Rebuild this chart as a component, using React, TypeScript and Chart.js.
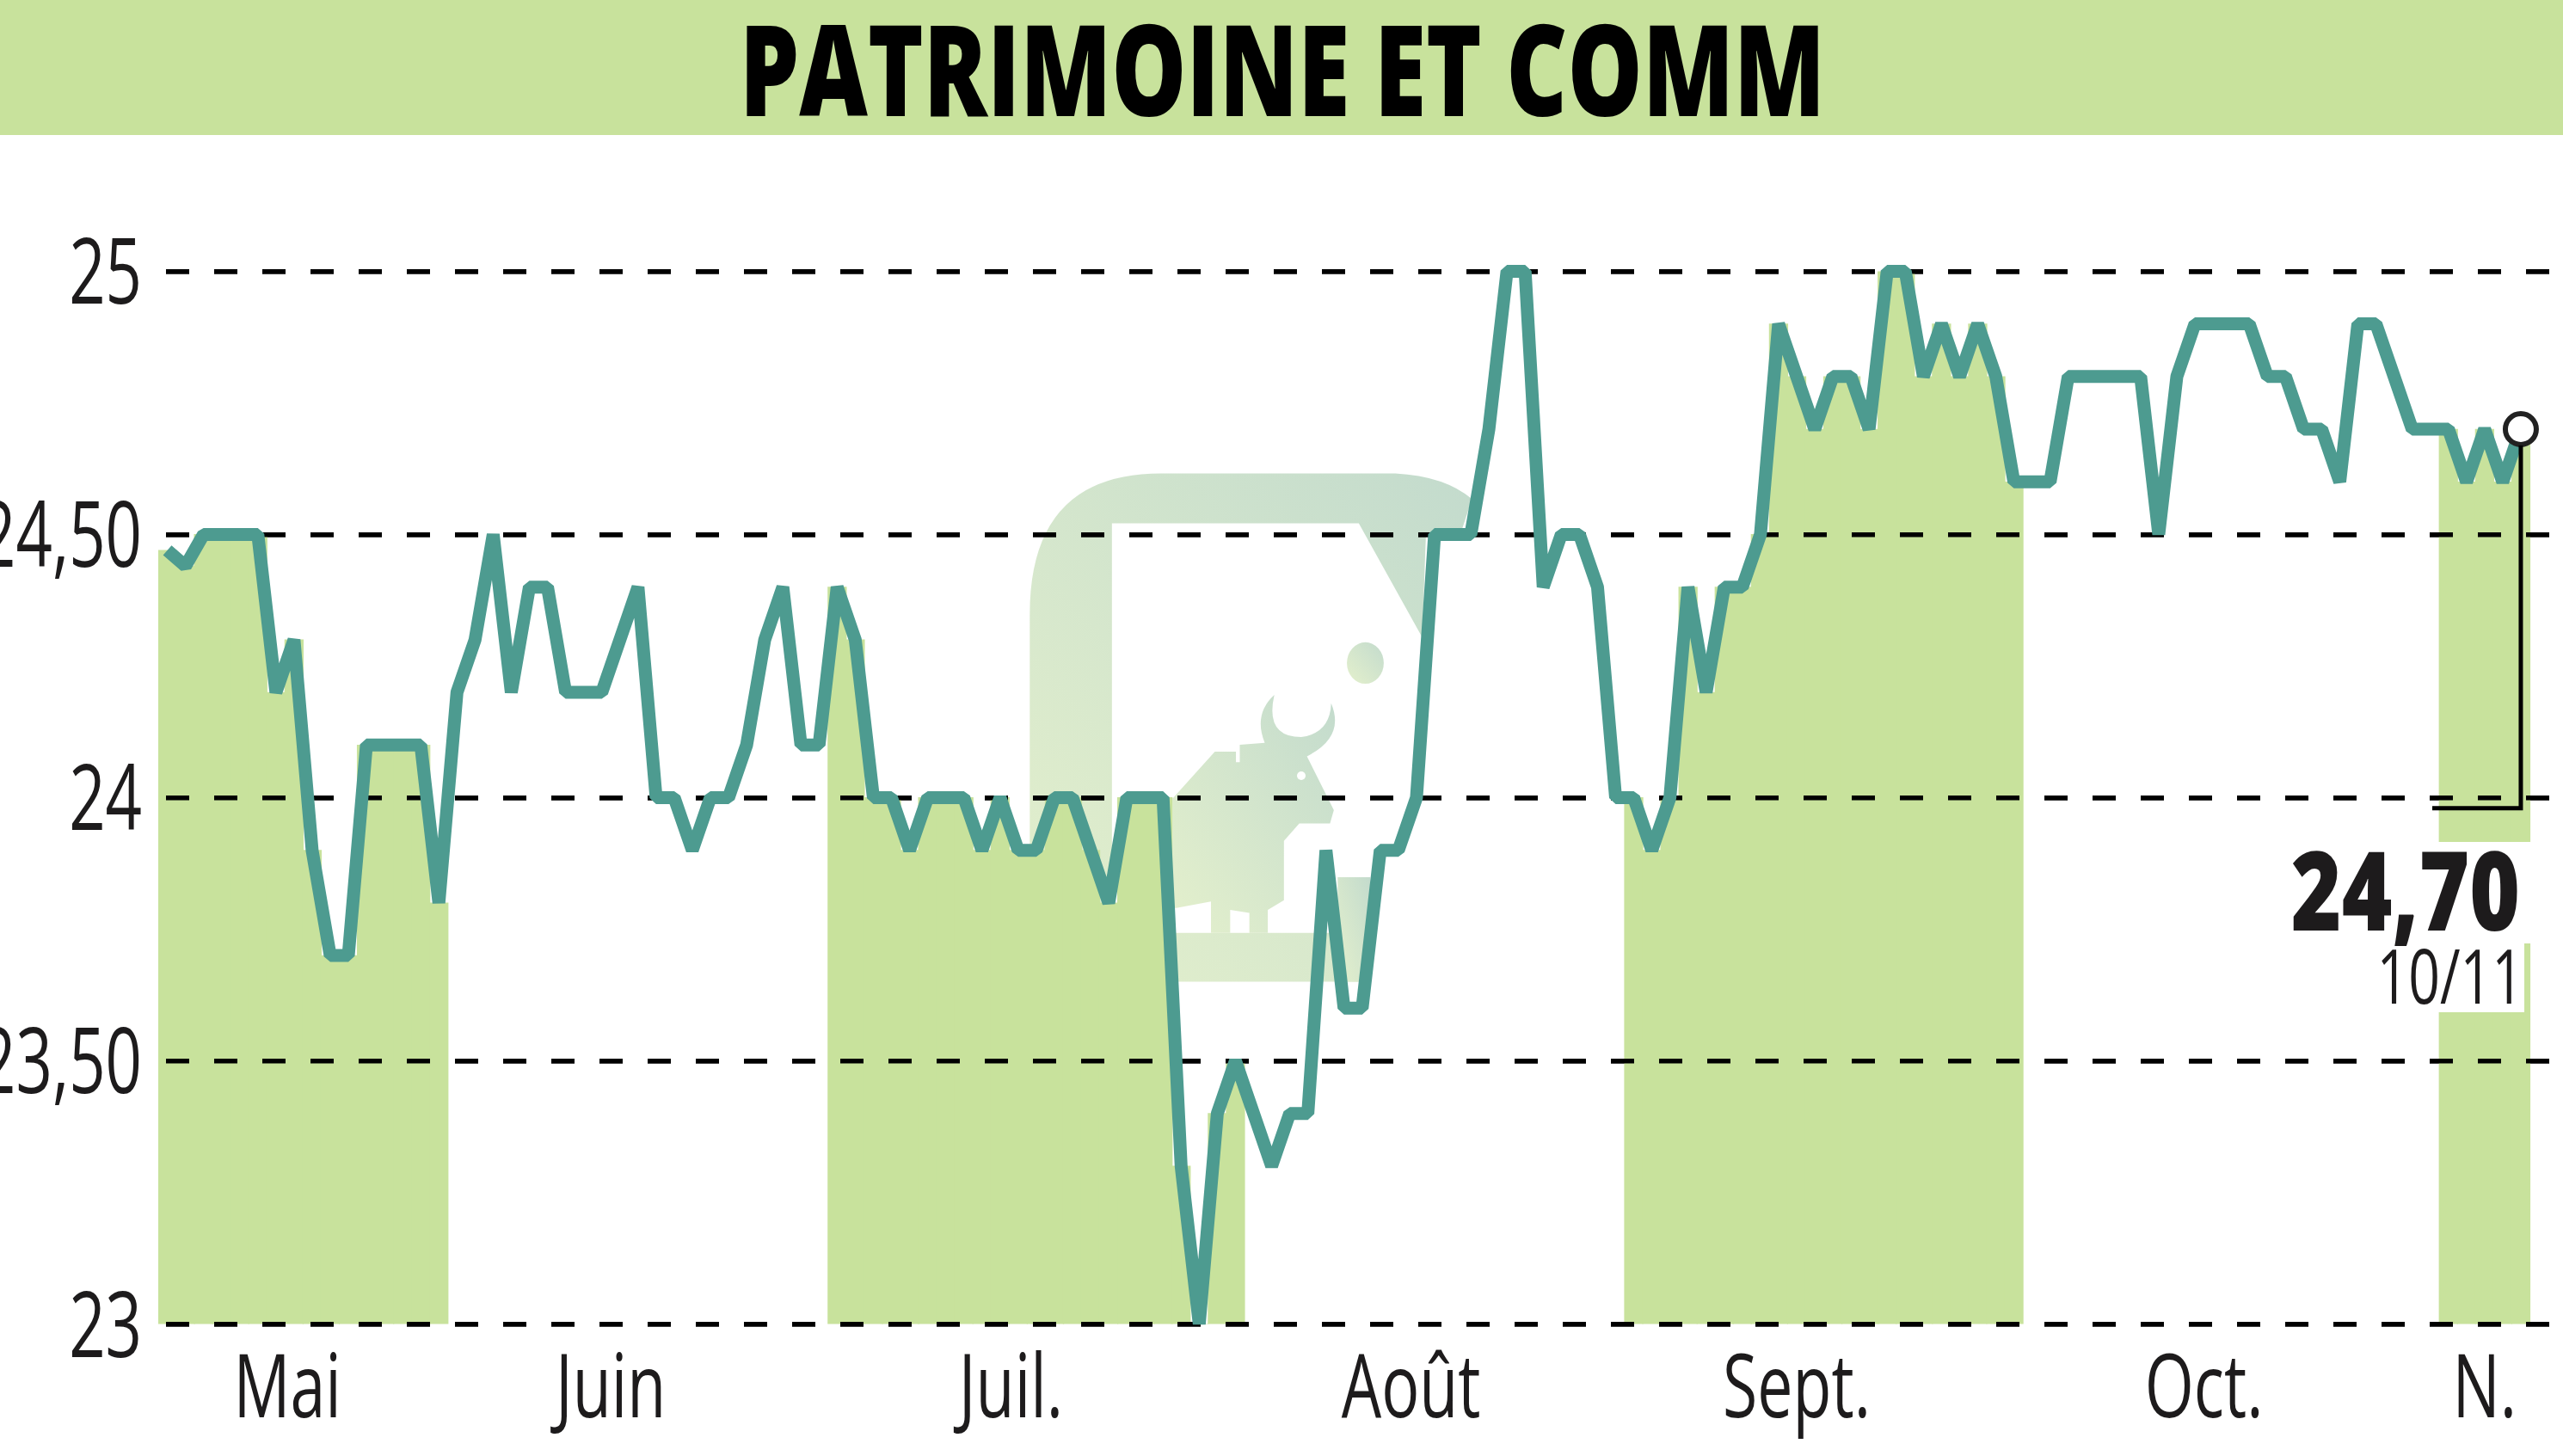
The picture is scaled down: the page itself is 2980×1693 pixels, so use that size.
import React, { useEffect, useRef } from 'react';
import { Chart, registerables } from 'chart.js';

Chart.register(...registerables);

const TITLE = 'PATRIMOINE ET COMM';
const closes = [
  24.47, 24.44, 24.5, 24.5, 24.5, 24.5, 24.2, 24.3, 23.9, 23.7, 23.7, 24.1, 24.1, 24.1, 24.1, 23.8,
  24.2, 24.3, 24.5, 24.2, 24.4, 24.4, 24.2, 24.2, 24.2, 24.3, 24.4, 24.0, 24.0, 23.9, 24.0, 24.0,
  24.1, 24.3, 24.4, 24.1, 24.1, 24.4, 24.3, 24.0, 24.0, 23.9, 24.0, 24.0, 24.0, 23.9, 24.0, 23.9,
  23.9, 24.0, 24.0, 23.9, 23.8, 24.0, 24.0, 24.0, 23.3, 23.0, 23.4, 23.5, 23.4, 23.3, 23.4, 23.4,
  23.9, 23.6, 23.6, 23.9, 23.9, 24.0, 24.5, 24.5, 24.5, 24.7, 25.0, 25.0, 24.4, 24.5, 24.5, 24.4,
  24.0, 24.0, 23.9, 24.0, 24.4, 24.2, 24.4, 24.4, 24.5, 24.9, 24.8, 24.7, 24.8, 24.8, 24.7, 25.0,
  25.0, 24.8, 24.9, 24.8, 24.9, 24.8, 24.6, 24.6, 24.6, 24.8, 24.8, 24.8, 24.8, 24.8, 24.5, 24.8,
  24.9, 24.9, 24.9, 24.9, 24.8, 24.8, 24.7, 24.7, 24.6, 24.9, 24.9, 24.8, 24.7, 24.7, 24.7, 24.6,
  24.7, 24.6, 24.7,
];
// first and last index of the shaded months
const shadedMonths = [[0, 15], [37, 59], [81, 102], [126, 130]];
const monthLabels = ['Mai', 'Juin', 'Juil.', 'Août', 'Sept.', 'Oct.', 'N.'];
const monthPositions = [6.63, 24.5, 46.6, 68.7, 90, 112.5, 128];
const yTicks = [23, 23.5, 24, 24.5, 25];
const yTickLabels = ['23', '23,50', '24', '24,50', '25'];
const LAST_VALUE = '24,70';
const LAST_DATE = '10/11';

const GREEN = '#c8e29c';
const TEAL = '#4d9b90';
const INK = '#1d1b1c';
const FONT = '"Open Sans"';

const squeezedText = (ctx, text, x, baseline, sx, align) => {
  ctx.save();
  ctx.textAlign = align;
  ctx.textBaseline = 'alphabetic';
  ctx.translate(x, baseline);
  ctx.scale(sx, 1);
  ctx.fillText(text, 0, 0);
  ctx.restore();
};

const decorPlugin = {
  id: 'decor',
  beforeDraw(chart) {
    const { ctx, width } = chart;
    ctx.save();
    ctx.fillStyle = GREEN;
    ctx.fillRect(0, 0, width, 157);
    ctx.restore();
  },
  // dashes sit over the shaded bars but under the price line
  beforeDatasetDraw(chart, args) {
    if (args.index === 0) chart.scales.y.drawGrid(chart.chartArea);
  },
  afterDatasetsDraw(chart) {
    const { ctx, scales } = chart;
    const lastIndex = closes.length - 1;
    const px = scales.x.getPixelForValue(lastIndex);
    const py = scales.y.getPixelForValue(closes[lastIndex]);
    const elbow = scales.y.getPixelForValue(23.98);

    ctx.save();
    ctx.fillStyle = '#ffffff';
    ctx.fillRect(2650, 979, 295, 118);
    ctx.fillRect(2760, 1097, 175, 80);

    ctx.strokeStyle = '#000000';
    ctx.lineWidth = 5;
    ctx.beginPath();
    ctx.moveTo(px, py + 19);
    ctx.lineTo(px, elbow);
    ctx.lineTo(2828, elbow);
    ctx.stroke();

    ctx.fillStyle = '#000000';
    ctx.font = `800 147px ${FONT}`;
    squeezedText(ctx, TITLE, 1491, 135, 0.746, 'center');

    ctx.fillStyle = INK;
    ctx.font = `106px ${FONT}`;
    scales.y.ticks.forEach((tick, i) => {
      squeezedText(ctx, String(tick.label), 165, scales.y.getPixelForTick(i) + 38, 0.7, 'right');
    });
    ctx.font = `102px ${FONT}`;
    scales.x.ticks.forEach((tick, i) => {
      squeezedText(ctx, String(tick.label), scales.x.getPixelForTick(i), 1648, 0.72, 'center');
    });

    ctx.font = `800 127px ${FONT}`;
    squeezedText(ctx, LAST_VALUE, 2930, 1082, 0.79, 'right');
    ctx.font = `88px ${FONT}`;
    squeezedText(ctx, LAST_DATE, 2934, 1167, 0.73, 'right');
    ctx.restore();
  },
};

const Watermark = () => (
  <svg width={2980} height={1693} style={{ position: 'absolute', left: 0, top: 0 }}>
    <defs>
      <linearGradient id="logoFade" x1="1" y1="0" x2="0" y2="1">
        <stop offset="0" stopColor="#c3dbcd" />
        <stop offset="1" stopColor="#e4f0cc" />
      </linearGradient>
    </defs>
    <g transform="translate(1100 500) scale(0.4464)" fill="url(#logoFade)">
      <path d="M218,1437 L218,480 Q218,113 560,113 L1170,113 Q1300,120 1370,180 L1340,270 L1250,270 L1240,540 L1075,243 L432,243 L432,1310 L1075,1310 L1075,1437 Z" />
      <path d="M1020,1165 L1105,1165 L1105,1320 L1075,1437 L1020,1437 Z" />
      <path d="M590,960 L700,838 L755,838 L755,865 L765,865 L765,820 L830,815 Q800,740 855,690 Q830,800 925,800 Q1000,790 1003,712 Q1040,800 940,850 L1010,990 L1000,1025 L920,1025 L880,1070 L880,1225 L838,1250 L838,1310 L790,1310 L790,1258 L740,1250 L740,1310 L690,1310 L690,1228 L600,1245 L590,1245 Z" />
      <ellipse cx="1092" cy="607" rx="48" ry="54" />
    </g>
    <circle cx="1513" cy="902" r="5" fill="#ffffff" />
  </svg>
);

export default function App() {
  const canvasRef = useRef<HTMLCanvasElement>(null);

  useEffect(() => {
    document.body.style.margin = '0';
    if (!canvasRef.current) return;

    const linePoints = closes.map((y, x) => ({ x, y }));
    const barPoints = linePoints.filter((p) =>
      shadedMonths.some(([from, to]) => p.x >= from && p.x <= to)
    );
    const lastIndex = closes.length - 1;

    const chart = new Chart(canvasRef.current, {
      type: 'bar',
      data: {
        datasets: [
          {
            type: 'line',
            data: linePoints,
            order: 1,
            borderColor: TEAL,
            borderWidth: 15,
            borderJoinStyle: 'bevel',
            tension: 0,
            clip: false,
            pointRadius: (c) => (c.dataIndex === lastIndex ? 18 : 0),
            pointBackgroundColor: '#ffffff',
            pointBorderColor: '#222222',
            pointBorderWidth: 6,
          },
          {
            type: 'bar',
            data: barPoints,
            order: 2,
            backgroundColor: GREEN,
            barThickness: 21.6,
            borderWidth: 0,
          },
        ],
      },
      options: {
        responsive: false,
        animation: false,
        devicePixelRatio: 1,
        layout: { autoPadding: false, padding: { left: 184, right: 0, top: 315.4, bottom: 153.5 } },
        plugins: { legend: { display: false }, tooltip: { enabled: false } },
        scales: {
          x: {
            type: 'linear',
            min: -0.5,
            max: 132.33,
            offset: false,
            grid: { display: false },
            border: { display: false },
            afterFit: (scale) => {
              scale.height = 0;
            },
            afterBuildTicks: (scale) => {
              scale.ticks = monthPositions.map((value) => ({ value }));
            },
            ticks: {
              display: false,
              autoSkip: false,
              callback: (_value, index) => monthLabels[index],
            },
          },
          y: {
            min: 23,
            max: 25,
            grid: { color: '#000000', lineWidth: 5.5, drawTicks: false },
            border: { display: false, dash: [27, 29], dashOffset: 47 },
            afterFit: (scale) => {
              scale.width = 0;
            },
            afterBuildTicks: (scale) => {
              scale.ticks = yTicks.map((value) => ({ value }));
            },
            ticks: {
              display: false,
              callback: (_value, index) => yTickLabels[index],
            },
          },
        },
      },
      plugins: [decorPlugin],
    });

    return () => chart.destroy();
  }, []);

  return (
    <div style={{ position: 'relative', width: 2980, height: 1693 }}>
      <Watermark />
      <canvas
        ref={canvasRef}
        width={2980}
        height={1693}
        style={{ position: 'absolute', left: 0, top: 0 }}
      />
    </div>
  );
}
